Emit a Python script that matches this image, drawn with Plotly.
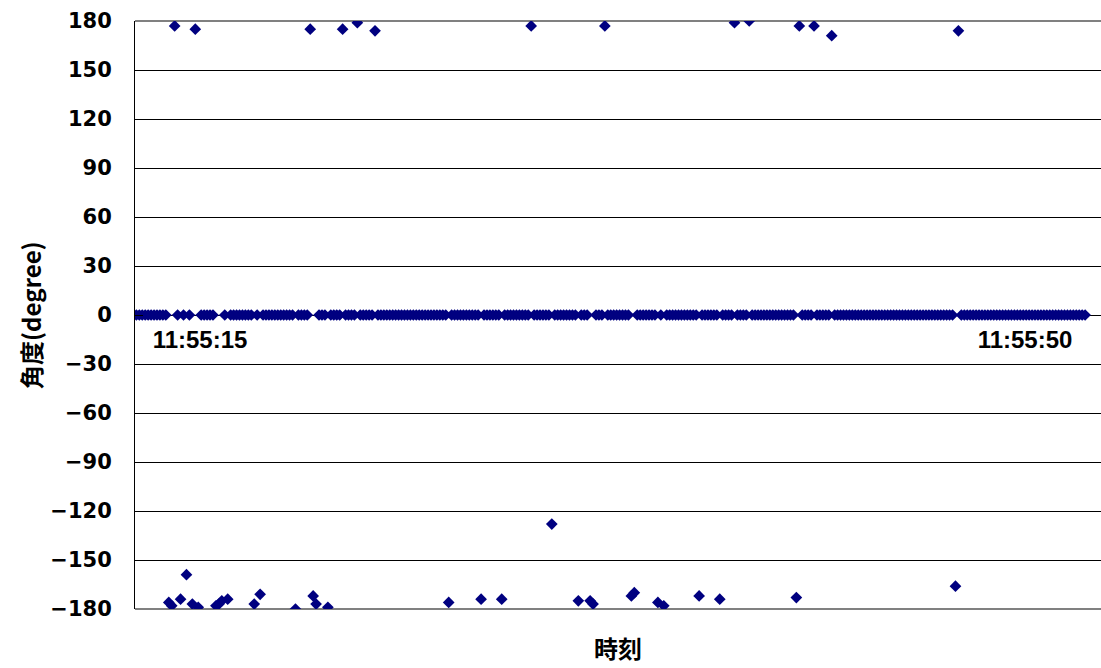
import pandas as pd
import plotly.graph_objects as go

# ---- data ----
start_time = "2000-01-01 11:55:12.300"
sample_freq = "125ms"
angles = [
    0, 0, 0, 0, 0, 0, 0, 0, 0, 0, 0, -176, -178, 177, 0, -174, 0, -159, 0, -177,
    175, -179, 0, 0, 0, 0, 0, -178, -177, -175, 0, -174, 0, 0, 0, 0, 0, 0, 0, 0,
    -177, 0, -171, 0, 0, 0, 0, 0, 0, 0, 0, 0, 0, 0, -180, 0, 0, 0, 0, 175,
    -172, -177, 0, 0, 0, -179, 0, 0, 0, 0, 175, 0, 0, 0, 0, 179, 0, 0, 0, 0,
    0, 174, 0, 0, 0, 0, 0, 0, 0, 0, 0, 0, 0, 0, 0, 0, 0, 0, 0, 0,
    0, 0, 0, 0, 0, 0, -176, 0, 0, 0, 0, 0, 0, 0, 0, 0, 0, -174, 0, 0,
    0, 0, 0, 0, -174, 0, 0, 0, 0, 0, 0, 0, 0, 0, 177, 0, 0, 0, 0, 0,
    0, -128, 0, 0, 0, 0, 0, 0, 0, 0, -175, 0, 0, 0, -175, -177, 0, 0, 0, 177,
    0, 0, 0, 0, 0, 0, 0, 0, -172, -170, 0, 0, 0, 0, 0, 0, 0, -176, 0, -178,
    0, 0, 0, 0, 0, 0, 0, 0, 0, 0, 0, -172, 0, 0, 0, 0, 0, 0, -174, 0,
    0, 0, 0, 179, 0, 0, 0, 0, 180, 0, 0, 0, 0, 0, 0, 0, 0, 0, 0, 0,
    0, 0, 0, 0, -173, 177, 0, 0, 0, 0, 177, 0, 0, 0, 0, 0, 171, 0, 0, 0,
    0, 0, 0, 0, 0, 0, 0, 0, 0, 0, 0, 0, 0, 0, 0, 0, 0, 0, 0, 0,
    0, 0, 0, 0, 0, 0, 0, 0, 0, 0, 0, 0, 0, 0, 0, 0, 0, 0, -166, 174,
    0, 0, 0, 0, 0, 0, 0, 0, 0, 0, 0, 0, 0, 0, 0, 0, 0, 0, 0, 0,
    0, 0, 0, 0, 0, 0, 0, 0, 0, 0, 0, 0, 0, 0, 0, 0, 0, 0, 0, 0,
    0, 0, 0,
]
x_tick_times = ["2000-01-01 11:55:15", "2000-01-01 11:55:50"]
x_tick_labels = ["11:55:15", "11:55:50"]
x_range = ["2000-01-01 11:55:12.242", "2000-01-01 11:55:53.224"]
y_ticks = [-180, -150, -120, -90, -60, -30, 0, 30, 60, 90, 120, 150, 180]
y_title = "角度(degree)"
x_title = "時刻"

times = pd.date_range(start=start_time, periods=len(angles), freq=sample_freq)

fig = go.Figure()
fig.add_trace(go.Scatter(
    x=times, y=angles, mode="markers",
    marker=dict(symbol="diamond", size=9, color="#000080", line=dict(width=0)),
    showlegend=False, hoverinfo="skip",
))

fig.update_layout(
    width=1101, height=668,
    margin=dict(l=135, r=0, t=21, b=59),
    plot_bgcolor="white", paper_bgcolor="white",
    xaxis=dict(
        type="date", range=x_range,
        tickmode="array", tickvals=x_tick_times, ticktext=x_tick_labels,
        showgrid=False, zeroline=False, showline=False, ticks="",
        anchor="free", position=0.5,
        tickfont=dict(family="Liberation Sans", size=24, color="black", weight="bold"),
        ticklabelstandoff=8,
    ),
    yaxis=dict(
        range=[-180, 180], tickmode="array", tickvals=y_ticks,
        showgrid=True, gridcolor="black", gridwidth=1,
        zeroline=True, zerolinecolor="black", zerolinewidth=1,
        showline=True, linecolor="black", linewidth=1,
        ticks="inside", ticklen=8, tickcolor="black",
        tickfont=dict(family="DejaVu Sans", size=21, color="black", weight="bold"),
        ticklabelstandoff=18,
    ),
    shapes=[
        dict(type="line", xref="paper", yref="paper", x0=0, x1=1, y0=1, y1=1,
             line=dict(color="#808080", width=2), layer="between"),
        dict(type="line", xref="paper", yref="paper", x0=0, x1=1, y0=0, y1=0,
             line=dict(color="#808080", width=2), layer="between"),
    ],
    annotations=[
        dict(text=y_title, xref="paper", yref="paper", x=-0.1087, y=0.5,
             textangle=-90, showarrow=False, xanchor="center", yanchor="middle",
             font=dict(family="Noto Sans CJK JP", size=24, color="black", weight="bold")),
        dict(text=x_title, xref="paper", yref="paper", x=0.5, y=-0.0663,
             showarrow=False, xanchor="center", yanchor="middle",
             font=dict(family="Noto Sans CJK JP", size=24, color="black", weight="bold")),
    ],
)

fig.write_html("out.html")
